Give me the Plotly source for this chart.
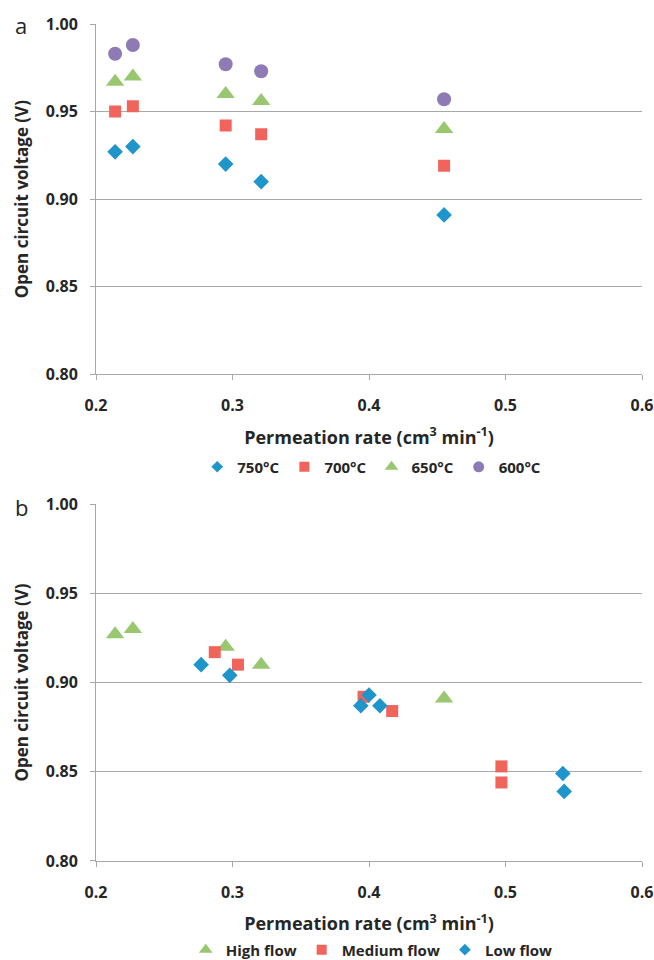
import plotly.graph_objects as go
from plotly.subplots import make_subplots

# ---- data (panel a) ----
perm_a = [0.214, 0.227, 0.295, 0.321, 0.455]
ocv_750 = [0.927, 0.930, 0.920, 0.910, 0.891]
ocv_700 = [0.950, 0.953, 0.942, 0.937, 0.919]
ocv_650 = [0.967, 0.970, 0.960, 0.956, 0.940]
ocv_600 = [0.983, 0.988, 0.977, 0.973, 0.957]

# ---- data (panel b) ----
perm_high = [0.214, 0.227, 0.295, 0.321, 0.455]
ocv_high = [0.927, 0.930, 0.920, 0.910, 0.891]
perm_med = [0.287, 0.304, 0.396, 0.417, 0.497, 0.497]
ocv_med = [0.917, 0.910, 0.892, 0.884, 0.853, 0.844]
perm_low = [0.277, 0.298, 0.394, 0.400, 0.408, 0.542, 0.543]
ocv_low = [0.910, 0.904, 0.887, 0.893, 0.887, 0.849, 0.839]

x_ticks = [0.2, 0.3, 0.4, 0.5, 0.6]
y_ticks = [0.80, 0.85, 0.90, 0.95, 1.00]

BLUE = "#1F96CB"
RED = "#F0645B"
GREEN = "#98C76F"
PURPLE = "#8E7BB6"
GRID = "#A8A8A8"
TXT = "#262626"
FONT = "Open Sans"

fig = make_subplots(rows=2, cols=1)

def add(row, x, y, name, symbol, color, size, lsize, legend):
    fig.add_trace(go.Scatter(x=x, y=y, mode="markers", name=name, showlegend=False,
                             marker=dict(symbol=symbol, color=color, size=size, line=dict(width=0))),
                  row=row, col=1)
    fig.add_trace(go.Scatter(x=[None], y=[None], mode="markers", name=name, showlegend=True,
                             legend=legend,
                             marker=dict(symbol=symbol, color=color, size=lsize, line=dict(width=0))),
                  row=row, col=1)

add(1, perm_a, ocv_750, "750°C", "diamond", BLUE, 12, 9, "legend")
add(1, perm_a, ocv_700, "700°C", "square", RED, 12, 10, "legend")
add(1, perm_a, ocv_650, "650°C", "triangle-up", GREEN, 16, 12, "legend")
add(1, perm_a, ocv_600, "600°C", "circle", PURPLE, 14, 11, "legend")

add(2, perm_high, ocv_high, "High flow", "triangle-up", GREEN, 16, 12, "legend2")
add(2, perm_med, ocv_med, "Medium flow", "square", RED, 12, 10, "legend2")
add(2, perm_low, ocv_low, "Low flow", "diamond", BLUE, 12, 9, "legend2")

xtitle = "Permeation rate (cm<sup>3</sup> min<sup>-1</sup>)"
ytitle = "Open circuit voltage (V)"

axis_common = dict(showline=True, linecolor=GRID, linewidth=1, ticks="outside",
                   ticklen=5, tickcolor=GRID, tickwidth=1, zeroline=False,
                   tickfont=dict(family=FONT, size=16, color=TXT, weight="bold"))

for r, dom in [(1, [0.5815, 1.0]), (2, [0.0, 0.4265])]:
    fig.update_xaxes(range=[0.2, 0.6], tickvals=x_ticks, ticktext=[f"{v:.1f}" for v in x_ticks],
                     showgrid=False, ticklabelstandoff=12,
                     title=dict(text=xtitle, standoff=15,
                                font=dict(family=FONT, size=18, color=TXT, weight="bold")),
                     row=r, col=1, **axis_common)
    fig.update_yaxes(range=[0.80, 1.00], tickvals=y_ticks, ticktext=[f"{v:.2f}" for v in y_ticks],
                     showgrid=True, gridcolor=GRID, gridwidth=1, ticklabelstandoff=9,
                     domain=dom,
                     title=dict(text=ytitle, standoff=12,
                                font=dict(family=FONT, size=17, color=TXT, weight="bold")),
                     row=r, col=1, **axis_common)

legend_font = dict(family=FONT, size=15, color=TXT, weight="bold")
fig.update_layout(
    width=654, height=960,
    margin=dict(l=96, r=12, t=24, b=99, autoexpand=False),
    plot_bgcolor="white", paper_bgcolor="white",
    font=dict(family=FONT, color=TXT),
    legend=dict(orientation="h", x=0.505, xanchor="center", y=0.4707, yanchor="middle",
                font=legend_font, itemwidth=30, bgcolor="rgba(0,0,0,0)"),
    legend2=dict(orientation="h", x=0.505, xanchor="center", y=-0.1063, yanchor="middle",
                 font=legend_font, itemwidth=30, bgcolor="rgba(0,0,0,0)"),
    annotations=[
        dict(text="a", xref="paper", yref="paper", x=-0.1367, y=0.9988, xanchor="center",
             yanchor="middle", showarrow=False, font=dict(family=FONT, size=22, color=TXT)),
        dict(text="b", xref="paper", yref="paper", x=-0.1367, y=0.423, xanchor="center",
             yanchor="middle", showarrow=False, font=dict(family=FONT, size=22, color=TXT)),
    ],
)

fig.write_html("out.html")
